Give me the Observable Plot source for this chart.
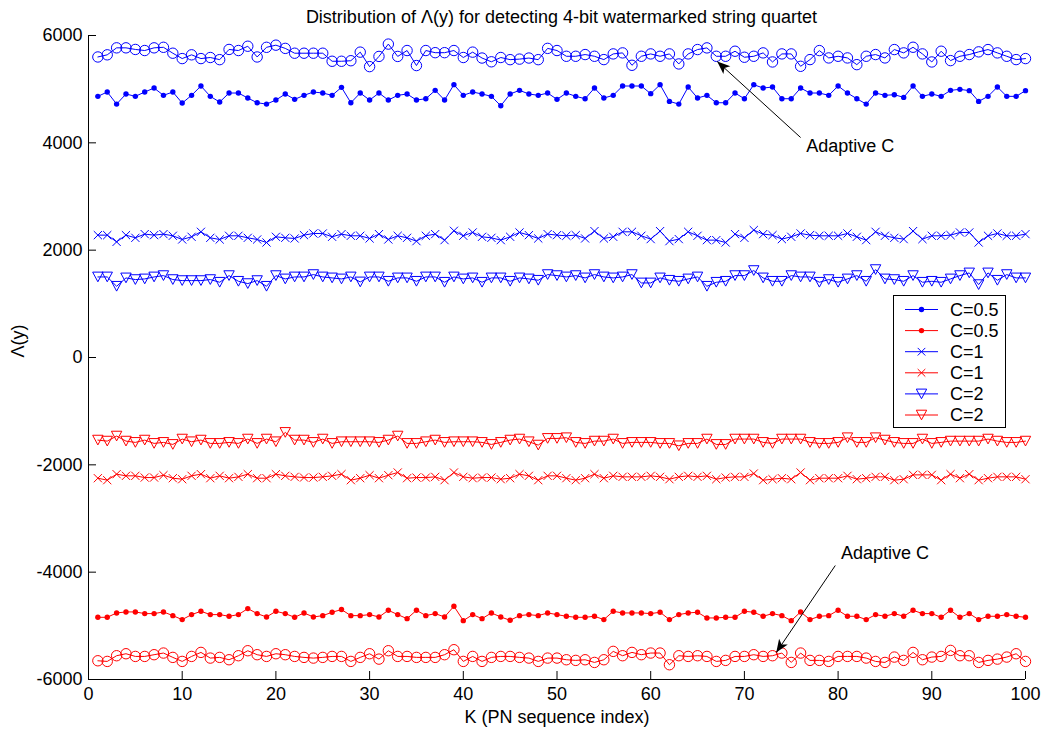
<!DOCTYPE html>
<html>
<head>
<meta charset="utf-8">
<script src="https://cdn.jsdelivr.net/npm/d3@7"></script>
<script src="https://cdn.jsdelivr.net/npm/@observablehq/plot@0.6"></script>
<style>
  body { margin: 0; background: #fff; }
  #wrap { position: relative; width: 1048px; height: 736px; overflow: hidden; font-family: "Liberation Sans", Arial, sans-serif; }
  #title { position: absolute; left: 0; top: 8px; width: 1048px; padding-left: 75px; box-sizing: border-box; text-align: center; font-size: 18px; line-height: 18px; color: #000; }
  #legend { position: absolute; left: 893px; top: 295px; }
</style>
</head>
<body>
<div id="wrap">
  <div id="chart"></div>
  <div id="title">Distribution of Λ(y) for detecting 4-bit watermarked string quartet</div>
  <div id="legend"></div>
</div>
<script>
// ---- data ----
const K = d3.range(1, 101);
const xTicks = [0, 10, 20, 30, 40, 50, 60, 70, 80, 90, 100];
const yTicks = [-6000, -4000, -2000, 0, 2000, 4000, 6000];
const titleText = "Distribution of Λ(y) for detecting 4-bit watermarked string quartet";
const xLabel = "K (PN sequence index)";
const yLabel = "Λ(y)";
const legendLabels = ["C=0.5", "C=0.5", "C=1", "C=1", "C=2", "C=2"];

const blueAdaptive = [5600,5640,5770,5770,5740,5720,5770,5780,5670,5570,5640,5570,5590,5550,5740,5720,5800,5600,5780,5820,5760,5670,5670,5670,5670,5520,5520,5530,5690,5420,5610,5840,5610,5720,5440,5720,5680,5680,5720,5590,5690,5580,5510,5590,5550,5560,5580,5550,5760,5720,
  5613,5613,5645,5613,5551,5657,5676,5445,5613,5657,5613,5657,5470,5657,5738,5769,5613,5613,5707,5595,5613,5676,5507,5657,5657,5426,5551,5719,5582,5613,5582,5457,5613,5645,5582,5738,5676,5781,5657,5507,5707,5532,5613,5645,5695,5738,5676,5613,5551,5570];
const blueC05 = [4866,4947,4722,4910,4866,4947,5021,4885,4947,4741,4885,5059,4866,4760,4928,4928,4835,4747,4722,4797,4910,4810,4885,4947,4928,4885,5034,4747,4928,4797,4928,4797,4885,4910,4797,4822,4978,4797,5084,4885,4947,4910,4866,4691,4910,4978,4910,4885,4928,4810,
  4928,4866,4822,5021,4835,4885,5059,5059,5059,4916,5084,4772,4722,5040,4835,4885,4747,4747,4928,4822,5084,5021,5040,4822,4822,5021,4928,4928,4885,5059,4928,4822,4722,4928,4885,4897,4847,5059,4866,4910,4866,4978,4997,4972,4772,4866,5040,4866,4866,4972];
const blueC1 = [2280,2280,2155,2280,2230,2299,2280,2299,2268,2199,2249,2342,2230,2199,2268,2268,2230,2199,2143,2249,2230,2218,2280,2311,2311,2249,2299,2268,2268,2218,2299,2199,2268,2230,2168,2268,2299,2187,2361,2268,2330,2249,2230,2187,2249,2330,2280,2218,2299,2280,
  2268,2280,2218,2355,2218,2249,2342,2342,2268,2206,2355,2168,2206,2342,2268,2187,2187,2143,2299,2230,2374,2299,2280,2206,2249,2311,2280,2268,2268,2268,2311,2249,2187,2342,2268,2230,2206,2355,2206,2268,2268,2280,2330,2330,2143,2268,2311,2268,2268,2299];
const blueC2 = [1501,1501,1327,1483,1452,1464,1501,1526,1452,1433,1433,1433,1452,1402,1526,1420,1377,1433,1327,1526,1464,1501,1501,1545,1501,1483,1464,1501,1408,1501,1501,1420,1483,1483,1420,1501,1501,1402,1501,1464,1483,1402,1483,1483,1420,1483,1464,1439,1545,1526,
  1501,1526,1483,1545,1501,1483,1501,1545,1389,1389,1483,1439,1420,1464,1501,1327,1402,1420,1526,1526,1620,1483,1420,1420,1526,1501,1501,1402,1452,1402,1464,1526,1420,1638,1464,1452,1420,1526,1402,1420,1402,1464,1526,1576,1358,1576,1439,1545,1483,1483];
const redC2 = [-1539,-1558,-1464,-1558,-1582,-1539,-1601,-1582,-1620,-1520,-1570,-1539,-1601,-1601,-1582,-1601,-1520,-1601,-1520,-1570,-1396,-1539,-1539,-1582,-1520,-1601,-1570,-1570,-1570,-1570,-1582,-1539,-1464,-1601,-1601,-1570,-1539,-1582,-1570,-1570,-1570,-1582,-1620,-1582,-1539,-1520,-1570,-1632,-1508,-1508,
  -1495,-1582,-1601,-1558,-1558,-1520,-1601,-1582,-1582,-1582,-1601,-1601,-1645,-1601,-1601,-1520,-1620,-1620,-1520,-1520,-1520,-1582,-1601,-1520,-1520,-1520,-1582,-1601,-1601,-1582,-1495,-1582,-1582,-1495,-1539,-1582,-1601,-1601,-1520,-1601,-1582,-1558,-1558,-1558,-1558,-1520,-1558,-1582,-1582,-1558];
const redC1 = [-2249,-2286,-2174,-2205,-2205,-2237,-2237,-2193,-2249,-2268,-2205,-2174,-2249,-2205,-2249,-2224,-2174,-2249,-2249,-2174,-2205,-2224,-2237,-2237,-2224,-2205,-2174,-2286,-2249,-2193,-2249,-2193,-2143,-2249,-2237,-2237,-2224,-2286,-2143,-2224,-2249,-2237,-2237,-2268,-2249,-2174,-2205,-2286,-2205,-2205,
  -2249,-2286,-2249,-2174,-2249,-2205,-2224,-2224,-2224,-2205,-2224,-2268,-2224,-2205,-2224,-2205,-2268,-2237,-2224,-2224,-2162,-2286,-2268,-2249,-2268,-2143,-2286,-2249,-2249,-2249,-2205,-2268,-2249,-2224,-2224,-2286,-2268,-2187,-2187,-2187,-2286,-2174,-2249,-2174,-2286,-2249,-2224,-2224,-2224,-2268];
const redC05 = [-4841,-4841,-4760,-4741,-4741,-4772,-4772,-4741,-4810,-4884,-4791,-4729,-4791,-4791,-4822,-4791,-4679,-4772,-4835,-4729,-4772,-4841,-4760,-4835,-4810,-4747,-4697,-4810,-4810,-4791,-4835,-4710,-4791,-4866,-4710,-4810,-4772,-4835,-4635,-4903,-4791,-4866,-4760,-4835,-4897,-4810,-4791,-4810,-4760,-4791,
  -4822,-4841,-4841,-4822,-4884,-4729,-4760,-4760,-4760,-4772,-4747,-4884,-4791,-4760,-4747,-4853,-4853,-4841,-4841,-4729,-4747,-4822,-4772,-4810,-4903,-4741,-4884,-4822,-4810,-4710,-4822,-4822,-4884,-4791,-4822,-4772,-4822,-4710,-4772,-4772,-4841,-4710,-4841,-4772,-4884,-4822,-4822,-4791,-4822,-4841];
const redAdaptive = [-5651,-5663,-5557,-5520,-5570,-5570,-5538,-5507,-5588,-5663,-5570,-5495,-5601,-5588,-5632,-5557,-5464,-5538,-5570,-5520,-5538,-5570,-5588,-5601,-5588,-5570,-5570,-5663,-5588,-5520,-5620,-5464,-5570,-5570,-5588,-5588,-5588,-5538,-5445,-5663,-5570,-5663,-5588,-5570,-5570,-5588,-5601,-5663,-5601,-5601,
  -5632,-5644,-5632,-5682,-5632,-5476,-5557,-5495,-5538,-5507,-5507,-5725,-5557,-5570,-5557,-5570,-5663,-5644,-5570,-5570,-5538,-5570,-5557,-5507,-5682,-5507,-5644,-5644,-5663,-5570,-5570,-5570,-5601,-5663,-5682,-5582,-5644,-5495,-5632,-5582,-5570,-5458,-5557,-5557,-5682,-5644,-5620,-5582,-5520,-5663];

// annotations (data coordinates)
const annoText = ["Adaptive C", "Adaptive C"];
const annoTextK = [76.6, 80.3];
const annoTextV = [3932, -3652];
const arrowFromK = [76.0, 79.7];
const arrowFromV = [4099, -3876];
const arrowToK = [67.1, 73.4];
const arrowToV = [5516, -5497];

// ---- build ----
const BLUE = "#0000ff", RED = "#ff0000";
const rows = vals => vals.map((v, i) => ({k: K[i], v}));

const downTriangle = {
  draw(ctx, size) {
    const s = Math.sqrt(size / Math.PI);
    ctx.moveTo(-s, -0.93 * s);
    ctx.lineTo(s, -0.93 * s);
    ctx.lineTo(0, 0.93 * s);
    ctx.closePath();
  }
};
const arrowHead = {
  draw(ctx, size) {
    const s = Math.sqrt(size / Math.PI);
    ctx.moveTo(0, 0);
    ctx.lineTo(-0.4 * s, s);
    ctx.lineTo(0, 0.75 * s);
    ctx.lineTo(0.4 * s, s);
    ctx.closePath();
  }
};

const series = [
  {vals: blueAdaptive, color: BLUE, kind: "o"},
  {vals: blueC05, color: BLUE, kind: "."},
  {vals: blueC1, color: BLUE, kind: "x"},
  {vals: blueC2, color: BLUE, kind: "v"},
  {vals: redC2, color: RED, kind: "v"},
  {vals: redC1, color: RED, kind: "x"},
  {vals: redC05, color: RED, kind: "."},
  {vals: redAdaptive, color: RED, kind: "o"}
];

function markerOpts(kind, color) {
  if (kind === "o") return {symbol: "circle", r: 5.2, fill: "none", stroke: color, strokeWidth: 1};
  if (kind === ".") return {symbol: "circle", r: 2.7, fill: color, stroke: "none"};
  if (kind === "x") return {symbol: "times", r: 3.8, fill: "none", stroke: color, strokeWidth: 1};
  return {symbol: downTriangle, r: 5.2, fill: "none", stroke: color, strokeWidth: 1};
}

const marks = [
  Plot.ruleX([0], {stroke: "#000", strokeWidth: 1}),
  Plot.ruleY([-6000], {stroke: "#000", strokeWidth: 1})
];
for (const s of series) {
  const d = rows(s.vals);
  marks.push(Plot.line(d, {x: "k", y: "v", stroke: s.color, strokeWidth: 1}));
  marks.push(Plot.dot(d, {x: "k", y: "v", ...markerOpts(s.kind, s.color)}));
}

const arrows = annoText.map((t, i) => ({
  x1: arrowFromK[i], y1: arrowFromV[i], x2: arrowToK[i], y2: arrowToV[i],
  angle: i === 0 ? -47.9 : -146.5
}));
const labels = annoText.map((t, i) => ({k: annoTextK[i], v: annoTextV[i], t}));

marks.push(Plot.link(arrows, {x1: "x1", y1: "y1", x2: "x2", y2: "y2", stroke: "#000", strokeWidth: 1}));
marks.push(Plot.dot(arrows, {x: "x2", y: "y2", symbol: arrowHead, r: 13, rotate: "angle", fill: "#000", stroke: "none"}));
marks.push(Plot.text(labels, {x: "k", y: "v", text: "t", textAnchor: "start", fontSize: 18, fill: "#000"}));
marks.push(Plot.text([xLabel], {frameAnchor: "bottom", dy: 43, fontSize: 18, fill: "#000"}));
marks.push(Plot.text([yLabel], {frameAnchor: "left", dx: -70, rotate: -90, fontSize: 18, fill: "#000"}));

const chart = Plot.plot({
  width: 1048,
  height: 736,
  marginTop: 35,
  marginBottom: 57,
  marginLeft: 88,
  marginRight: 23,
  style: {fontFamily: '"Liberation Sans", Arial, sans-serif', fontSize: "18px", color: "#000", background: "#fff", overflow: "visible"},
  x: {domain: [0, 100], ticks: xTicks, tickSize: -8, tickPadding: 16, tickFormat: d => String(d), label: null},
  y: {domain: [-6000, 6000], ticks: yTicks, tickSize: -8, tickPadding: 14, tickFormat: d => String(d), label: null},
  marks
});
document.getElementById("chart").appendChild(chart);

// ---- legend ----
const legendKinds = [
  {kind: ".", color: BLUE}, {kind: ".", color: RED},
  {kind: "x", color: BLUE}, {kind: "x", color: RED},
  {kind: "v", color: BLUE}, {kind: "v", color: RED}
];
const LW = 112, LH = 132;
const ns = "http://www.w3.org/2000/svg";
const lsvg = d3.create("svg").attr("xmlns", ns).attr("width", LW + 1).attr("height", LH + 1)
  .style("font-family", '"Liberation Sans", Arial, sans-serif').style("font-size", "18px");
lsvg.append("rect").attr("x", 0.5).attr("y", 0.5).attr("width", LW).attr("height", LH)
  .attr("fill", "#fff").attr("stroke", "#000").attr("stroke-width", 1);
legendKinds.forEach((e, i) => {
  const cy = 14.5 + i * 21.1;
  const g = lsvg.append("g");
  g.append("line").attr("x1", 12).attr("x2", 45).attr("y1", cy).attr("y2", cy).attr("stroke", e.color).attr("stroke-width", 1);
  if (e.kind === ".") {
    g.append("circle").attr("cx", 28.5).attr("cy", cy).attr("r", 2.7).attr("fill", e.color);
  } else if (e.kind === "x") {
    g.append("path").attr("d", `M${28.5-3.8},${cy-3.8}L${28.5+3.8},${cy+3.8}M${28.5-3.8},${cy+3.8}L${28.5+3.8},${cy-3.8}`)
      .attr("stroke", e.color).attr("fill", "none");
  } else {
    g.append("path").attr("d", `M${28.5-5.2},${cy-4.8}L${28.5+5.2},${cy-4.8}L28.5,${cy+4.8}Z`)
      .attr("stroke", e.color).attr("fill", "none");
  }
  g.append("text").attr("x", 57).attr("y", cy).attr("dy", "0.35em").attr("fill", "#000").text(legendLabels[i]);
});
document.getElementById("legend").appendChild(lsvg.node());
</script>
</body>
</html>
